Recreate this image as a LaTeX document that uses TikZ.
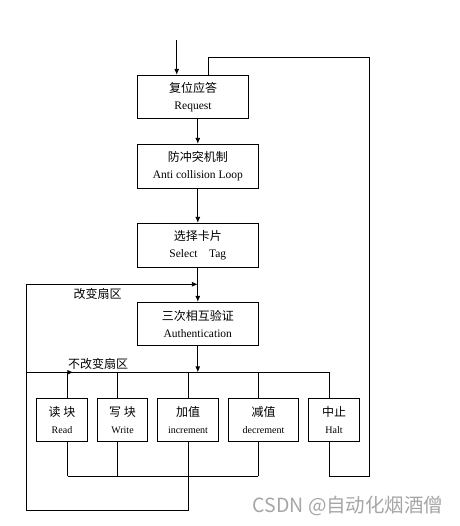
\documentclass[tikz,border=0pt]{standalone}
\usepackage{fontspec}
\setmainfont{Liberation Serif}
\newfontfamily\cjk{Noto Sans CJK SC}
\usetikzlibrary{arrows.meta}

\tikzset{
  box/.style={draw, line width=0.9pt, inner sep=0pt, align=center, minimum height=43pt,
    font=\fontsize{11.5}{17}\selectfont},
  smallbox/.style={box, font=\fontsize{10}{17}\selectfont},
  flow/.style={line width=0.9pt},
  arr/.style={flow, -{Latex[length=6pt,width=5pt]}},
  lbl/.style={font=\cjk\fontsize{12}{14}\selectfont},
}
\newcommand\cn[1]{{\cjk\fontsize{12}{17}\selectfont #1}}

\begin{document}
\begin{tikzpicture}[x=1pt, y=-1pt]
  \useasboundingbox (0,0) rectangle (459,526);

  % main chain
  \node[box, minimum width=111.4pt] (req) at (193,96.8) {\cn{复位应答}\\Request};
  \node[box, minimum width=121pt, minimum height=44pt] (anti) at (197.8,166.3) {\cn{防冲突机制}\\Anti collision Loop};
  \node[box, minimum width=121pt, minimum height=44pt] (sel) at (197.8,245.3) {\cn{选择卡片}\\Select\quad Tag};
  \node[box, minimum width=121pt] (auth) at (197.8,323.8) {\cn{三次相互验证}\\Authentication};

  % operations
  \node[smallbox, minimum width=51.4pt] (read) at (62,419.8) {\cn{读\ 块}\\Read};
  \node[smallbox, minimum width=50.4pt] (write) at (122.5,419.8) {\cn{写\ 块}\\Write};
  \node[smallbox, minimum width=61.4pt] (inc) at (188,419.8) {\cn{加值}\\increment};
  \node[smallbox, minimum width=70.4pt] (dec) at (263.5,419.8) {\cn{减值}\\decrement};
  \node[smallbox, minimum width=51.4pt] (halt) at (334,419.8) {\cn{中止}\\Halt};

  \coordinate (start) at (176.7,40);
  \coordinate (ret) at (208.7,57.3);
  \coordinate (chg) at (197.8,284.3);
  \coordinate (bus) at (197.8,372.3);
  \coordinate (nochg) at (73.3,372.3);
  \coordinate (loop) at (26.7,510.7);
  \coordinate (back) at (369,476);
  \coordinate (t1) at (67.7,372.3);
  \coordinate (t2) at (117.3,372.3);
  \coordinate (t3) at (188.3,372.3);
  \coordinate (t4) at (258.3,372.3);
  \coordinate (t5) at (329.7,372.3);

  \draw[arr] (start) -- (start |- req.north);
  \draw[arr] (req.south -| anti.north) -- (anti.north);
  \draw[arr] (anti.south) -- (sel.north);
  \draw[arr] (sel.south) -- (auth.north);
  \draw[arr] (auth.south) -- (bus);

  % bus to the operations
  \draw[flow] (t1) -- (t5);
  \foreach \t/\b in {t1/read, t2/write, t3/inc, t4/dec, t5/halt}
    \draw[flow] (\t) -- (\t |- \b.north);
  \foreach \t/\b in {t1/read, t2/write, t4/dec}
    \draw[flow] (\t |- \b.south) -- (\t |- back);
  \draw[flow] (t1 |- back) -- (t4 |- back);

  % loops back
  \draw[arr] (t3 |- inc.south) |- (loop) |- (chg);
  \draw[arr] (loop |- nochg) -- (nochg);
  \draw[flow] (t5 |- halt.south) |- (back) |- (ret) -- (ret |- req.north);

  \node[lbl] (lchg) at (97.5,294) {改变扇区};
  \node[lbl] (lnochg) at (98,364) {不改变扇区};

  \node[anchor=east, text=black!35, font=\cjk\fontsize{19.5}{22}\selectfont] (wm) at (447,506) {CSDN @自动化烟酒僧};
\end{tikzpicture}
\end{document}
